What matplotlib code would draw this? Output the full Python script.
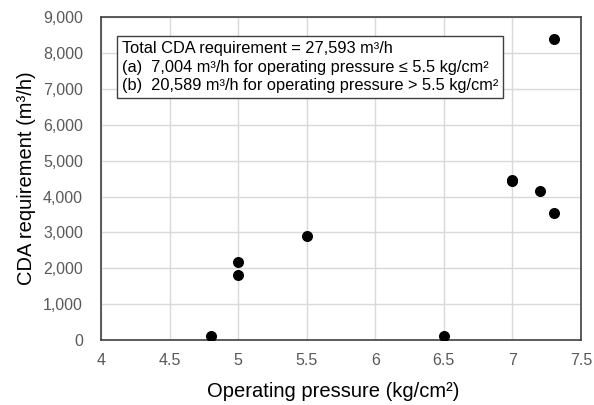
import matplotlib
matplotlib.use('Agg')
import matplotlib.pyplot as plt
from matplotlib.ticker import FuncFormatter

plt.rcParams['font.family'] = ['Liberation Sans', 'DejaVu Sans']

# data
pressure = [4.8, 5.0, 5.0, 5.5, 6.5, 7.0, 7.0, 7.2, 7.3, 7.3]
cda = [130, 2190, 1810, 2910, 120, 4430, 4470, 4150, 3530, 8390]

x_ticks = [4, 4.5, 5, 5.5, 6, 6.5, 7, 7.5]
y_ticks = list(range(0, 9001, 1000))

note = ("Total CDA requirement = 27,593 m\u00b3/h\n"
        "(a)  7,004 m\u00b3/h for operating pressure \u2264 5.5 kg/cm\u00b2\n"
        "(b)  20,589 m\u00b3/h for operating pressure > 5.5 kg/cm\u00b2")

fig = plt.figure(figsize=(5.94, 4.05), dpi=100)
ax = fig.add_axes([0.170, 0.160, 0.808, 0.798])

ax.scatter(pressure, cda, s=48, color='black', zorder=3)

ax.set_xlim(4, 7.5)
ax.set_ylim(0, 9000)
ax.set_xticks(x_ticks)
ax.set_yticks(y_ticks)
ax.xaxis.set_major_formatter(FuncFormatter(lambda v, p: f"{v:g}"))
ax.yaxis.set_major_formatter(FuncFormatter(lambda v, p: f"{int(v):,}"))
ax.tick_params(axis='x', length=0, labelsize=11.5, colors='#595959', pad=9)
ax.tick_params(axis='y', length=0, labelsize=11.5, colors='#595959', pad=13)
ax.grid(True, color='#d9d9d9', linewidth=1)
ax.set_axisbelow(True)
for sp in ax.spines.values():
    sp.set_color('#404040')
    sp.set_linewidth(1.2)

ax.set_xlabel('Operating pressure (kg/cm\u00b2)', fontsize=14.5)
ax.xaxis.set_label_coords(0.483, -0.128)
ax.set_ylabel('CDA requirement (m\u00b3/h)', fontsize=14.5, labelpad=5)

ax.text(0.043, 0.925, note, transform=ax.transAxes, fontsize=11.8, va='top', ha='left',
        linespacing=1.3,
        bbox=dict(boxstyle='square,pad=0.3', facecolor='white', edgecolor='#404040', linewidth=1))

fig.savefig('out.png', dpi=100)
